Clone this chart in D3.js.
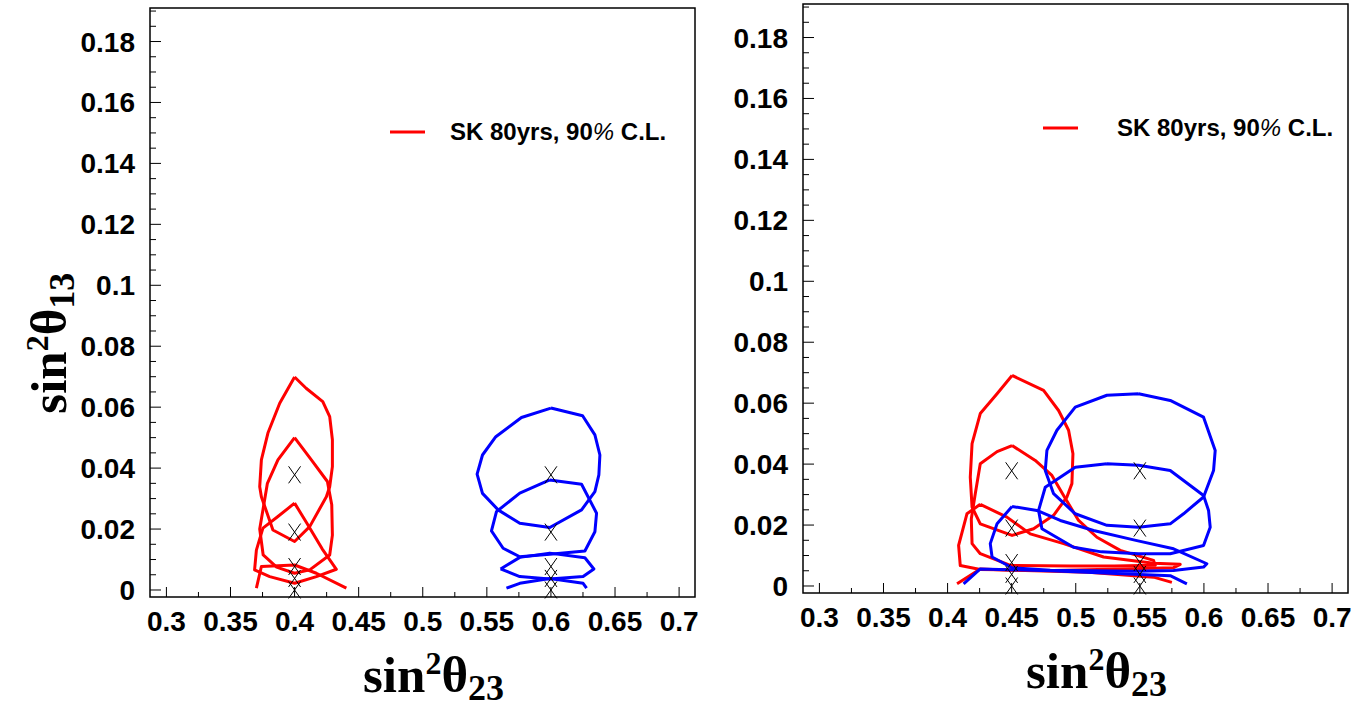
<!DOCTYPE html>
<html>
<head>
<meta charset="utf-8">
<script src="https://cdnjs.cloudflare.com/ajax/libs/d3/7.8.5/d3.min.js"></script>
<style>
  body { margin: 0; background: #fff; }
  svg { display: block; }
  .tick-label { font-family: "Liberation Sans", Arial, sans-serif; font-weight: bold; font-size: 28px; }
  .title { font-family: "Liberation Serif", "Times New Roman", serif; font-weight: bold; }
  .legend { font-family: "Liberation Sans", Arial, sans-serif; font-weight: bold; font-size: 24px; }
</style>
</head>
<body>
<div id="container"></div>
<script>
// ==================== data ==================== //

const xTicks = [0.3, 0.35, 0.4, 0.45, 0.5, 0.55, 0.6, 0.65, 0.7];
const yTicks = [0, 0.02, 0.04, 0.06, 0.08, 0.1, 0.12, 0.14, 0.16, 0.18];
const legendText = "SK 80yrs, 90";

// true-value markers (x)
const markerY = [0.0378, 0.019, 0.0077, 0.0038, 0];
const leftMarkerX = [0.4, 0.6];
const rightMarkerX = [0.45, 0.55];

// left panel contours, red (true sin2 theta23 = 0.4)
const leftRedA = [[0.400,0.0699],[0.409,0.0662],[0.422,0.0618],[0.4274,0.0569],[0.4295,0.0493],[0.4295,0.0405],[0.4274,0.0339],[0.4248,0.0306],[0.4118,0.0208],[0.400,0.0159],[0.3831,0.0197],[0.3741,0.0306],[0.3728,0.0339],[0.3741,0.0427],[0.3792,0.0515],[0.3884,0.0613],[0.400,0.0699]];
const leftRedB = [[0.400,0.050],[0.4131,0.0427],[0.4256,0.0356],[0.4290,0.028],[0.4295,0.018],[0.4274,0.0115],[0.4118,0.0066],[0.400,0.0055],[0.386,0.0075],[0.3755,0.0115],[0.3728,0.020],[0.3788,0.035],[0.387,0.0427],[0.400,0.050]];
const leftRedC = [[0.400,0.0285],[0.4095,0.022],[0.4215,0.0135],[0.4326,0.0068],[0.417,0.0044],[0.400,0.0022],[0.3806,0.0044],[0.3688,0.0066],[0.3702,0.0131],[0.3753,0.0203],[0.387,0.0241],[0.400,0.0285]];
const leftRedD = [[0.3702,0.0006],[0.3741,0.0077],[0.400,0.0082],[0.417,0.0055],[0.4404,0.0006]];

// left panel contours, blue (true sin2 theta23 = 0.6)
const leftBlueA = [[0.600,0.0597],[0.6247,0.0572],[0.6343,0.0509],[0.6382,0.0443],[0.6374,0.0378],[0.6343,0.0323],[0.6239,0.0263],[0.5991,0.0205],[0.5757,0.0219],[0.5588,0.0263],[0.5466,0.0317],[0.5424,0.038],[0.5466,0.0443],[0.557,0.0503],[0.577,0.0566],[0.600,0.0597]];
const leftBlueB = [[0.5991,0.0361],[0.6239,0.0347],[0.6356,0.0252],[0.6343,0.0191],[0.6265,0.0128],[0.5991,0.0117],[0.5757,0.0109],[0.5627,0.0137],[0.5536,0.0194],[0.5575,0.0257],[0.5757,0.0318],[0.5991,0.0361]];
const leftBlueC = [[0.5607,0.0069],[0.5757,0.0107],[0.5991,0.0121],[0.6265,0.0106],[0.6335,0.0069],[0.6251,0.0044],[0.5991,0.0036],[0.5757,0.0044],[0.5607,0.0069]];
const leftBlueD = [[0.5653,0.0006],[0.5757,0.0022],[0.5991,0.0038],[0.6251,0.0022],[0.6278,0.0006]];

// right panel contours, red (true sin2 theta23 = 0.45)
const rightRedA = [[0.4503,0.0691],[0.4749,0.0642],[0.4866,0.0576],[0.4944,0.0511],[0.4978,0.0434],[0.4970,0.0336],[0.4931,0.0292],[0.4827,0.0232],[0.4671,0.0188],[0.4503,0.0166],[0.4255,0.0204],[0.4191,0.0259],[0.4177,0.0357],[0.4191,0.0467],[0.4255,0.0566],[0.4386,0.0631],[0.4503,0.0691]];
const rightRedB = [[0.4503,0.0461],[0.4684,0.0412],[0.4814,0.0363],[0.4905,0.0297],[0.5022,0.0215],[0.5165,0.0160],[0.5347,0.0117],[0.5607,0.0084],[0.5620,0.0068],[0.5300,0.0066],[0.4957,0.0066],[0.4495,0.0067],[0.4255,0.0106],[0.4191,0.0139],[0.4185,0.0220],[0.4216,0.0303],[0.4255,0.0401],[0.4386,0.0441],[0.4503,0.0461]];
const rightRedC = [[0.4255,0.0268],[0.4463,0.0226],[0.4645,0.0171],[0.4905,0.0139],[0.5217,0.0095],[0.5607,0.0075],[0.5815,0.0071],[0.5763,0.0060],[0.5347,0.0056],[0.4827,0.0051],[0.4255,0.0054],[0.4099,0.0067],[0.4086,0.0133],[0.4151,0.0237],[0.4255,0.0268]];
const rightRedD = [[0.4074,0.0007],[0.4255,0.0056],[0.4503,0.0052],[0.5100,0.0045],[0.5607,0.0029],[0.5750,0.0012]];

// right panel contours, blue (true sin2 theta23 = 0.55)
const rightBlueA = [[0.5490,0.0631],[0.5737,0.0609],[0.5997,0.0554],[0.6088,0.0445],[0.6075,0.0379],[0.5997,0.0292],[0.5841,0.0237],[0.5737,0.0204],[0.5490,0.0193],[0.5243,0.0199],[0.4996,0.0237],[0.4827,0.0303],[0.4762,0.0379],[0.4775,0.0445],[0.4853,0.0511],[0.4996,0.0587],[0.5243,0.0626],[0.5490,0.0631]];
const rightBlueB = [[0.5243,0.0401],[0.5490,0.0396],[0.5737,0.0379],[0.5997,0.0297],[0.6036,0.0248],[0.6049,0.0193],[0.5997,0.0133],[0.5737,0.0106],[0.5490,0.0106],[0.5200,0.0112],[0.4983,0.0127],[0.4736,0.0188],[0.4710,0.0248],[0.4762,0.0324],[0.4996,0.0390],[0.5243,0.0401]];
const rightBlueC = [[0.4503,0.0261],[0.4697,0.0248],[0.4879,0.0215],[0.5139,0.0182],[0.5477,0.0149],[0.5763,0.0122],[0.6023,0.0073],[0.5997,0.0062],[0.5763,0.0051],[0.5477,0.0048],[0.4800,0.0052],[0.4503,0.0060],[0.4347,0.0095],[0.4333,0.0139],[0.4386,0.0204],[0.4503,0.0261]];
const rightBlueD = [[0.4125,0.0007],[0.4255,0.0056],[0.4800,0.0050],[0.5737,0.0034],[0.5867,0.0007]];

// ==================== drawing ==================== //

const width = 1364, height = 710;
const xDomain = [0.2872, 0.7124];
const yDomain = [-0.0023, 0.191];

const svg = d3.select("#container").append("svg")
    .attr("width", width)
    .attr("height", height);

function addTitle(sel, sub) {
    sel.append("tspan").text("sin");
    sel.append("tspan").attr("font-size", 32).attr("dy", -18).text("2");
    sel.append("tspan").attr("dy", 18).text("θ");
    sel.append("tspan").attr("font-size", 36).attr("dy", 8).text(sub);
}

function drawPanel(cfg) {
    const x = d3.scaleLinear().domain(xDomain).range([cfg.left, cfg.right]);
    const y = d3.scaleLinear().domain(yDomain).range([cfg.bottom, cfg.top]);
    const g = svg.append("g");

    // minor + major ticks, inside the frame
    const xMinor = d3.range(0.275, 0.7125, 0.025).filter(v => v > xDomain[0]);
    g.selectAll(".xt").data(xMinor).join("line")
        .attr("x1", d => x(d)).attr("x2", d => x(d))
        .attr("y1", cfg.bottom)
        .attr("y2", d => cfg.bottom - (xTicks.some(t => Math.abs(t - d) < 1e-6) ? 10 : 5))
        .attr("stroke", "#000").attr("stroke-width", 1);

    const yMinor = d3.range(0, 0.1905, 0.005);
    g.selectAll(".yt").data(yMinor).join("line")
        .attr("y1", d => y(d)).attr("y2", d => y(d))
        .attr("x1", cfg.left)
        .attr("x2", d => cfg.left + (yTicks.some(t => Math.abs(t - d) < 1e-6) ? 11 : 6))
        .attr("stroke", "#000").attr("stroke-width", 1);

    g.selectAll(".xl").data(xTicks).join("text")
        .attr("class", "tick-label")
        .attr("x", d => x(d)).attr("y", cfg.bottom + 34)
        .attr("text-anchor", "middle")
        .text(d => String(+d.toFixed(3)));

    g.selectAll(".yl").data(yTicks).join("text")
        .attr("class", "tick-label")
        .attr("x", cfg.left - 15).attr("y", d => y(d) + 10)
        .attr("text-anchor", "end")
        .text(d => String(+d.toFixed(3)));

    // frame
    g.append("rect")
        .attr("x", cfg.left).attr("y", cfg.top)
        .attr("width", cfg.right - cfg.left).attr("height", cfg.bottom - cfg.top)
        .attr("fill", "none").attr("stroke", "#000").attr("stroke-width", 1.5);

    const line = d3.line().x(d => x(d[0])).y(d => y(d[1]));
    cfg.red.forEach(c => g.append("path").attr("d", line(c))
        .attr("fill", "none").attr("stroke", "#ff0000").attr("stroke-width", 3)
        .attr("stroke-linejoin", "round"));
    cfg.blue.forEach(c => g.append("path").attr("d", line(c))
        .attr("fill", "none").attr("stroke", "#0000ff").attr("stroke-width", 3)
        .attr("stroke-linejoin", "round"));

    // X markers
    const pts = [];
    cfg.markerX.forEach(mx => markerY.forEach(my => pts.push([mx, my])));
    const mw = 6, mh = 8.5;
    g.selectAll(".mk").data(pts).join("path")
        .attr("d", d => {
            const cx = x(d[0]), cy = y(d[1]);
            return `M${cx - mw},${cy - mh}L${cx + mw},${cy + mh}M${cx - mw},${cy + mh}L${cx + mw},${cy - mh}`;
        })
        .attr("stroke", "#000").attr("stroke-width", 1).attr("fill", "none");

    // legend
    g.append("line")
        .attr("x1", cfg.legX).attr("x2", cfg.legX + 35)
        .attr("y1", cfg.legY).attr("y2", cfg.legY)
        .attr("stroke", "#ff0000").attr("stroke-width", 3);
    const lt = g.append("text").attr("class", "legend")
        .attr("x", cfg.legX + cfg.legGap).attr("y", cfg.legY + 8);
    lt.append("tspan").text(legendText);
    lt.append("tspan").attr("font-weight", "normal").attr("font-style", "italic").text("%");
    lt.append("tspan").text(" C.L.");

    // x title
    const xt = g.append("text").attr("class", "title")
        .attr("x", (cfg.left + cfg.right) / 2 + cfg.titleShift).attr("y", cfg.bottom + 95)
        .attr("text-anchor", "middle").attr("font-size", 51);
    addTitle(xt, "23");

    if (cfg.yTitle) {
        const yt = g.append("text").attr("class", "title")
            .attr("transform", `translate(66,${y(0.081)}) rotate(-90)`)
            .attr("text-anchor", "middle").attr("font-size", 51);
        addTitle(yt, "13");
    }
}

drawPanel({
    left: 150, right: 695, top: 8, bottom: 597,
    red: [leftRedA, leftRedB, leftRedC, leftRedD],
    blue: [leftBlueA, leftBlueB, leftBlueC, leftBlueD],
    markerX: leftMarkerX,
    legX: 390, legY: 132, legGap: 60, titleShift: 11, yTitle: true
});

drawPanel({
    left: 803, right: 1348, top: 4, bottom: 593,
    red: [rightRedA, rightRedB, rightRedC, rightRedD],
    blue: [rightBlueA, rightBlueB, rightBlueC, rightBlueD],
    markerX: rightMarkerX,
    legX: 1043, legY: 128, legGap: 74, titleShift: 21, yTitle: false
});
</script>
</body>
</html>
